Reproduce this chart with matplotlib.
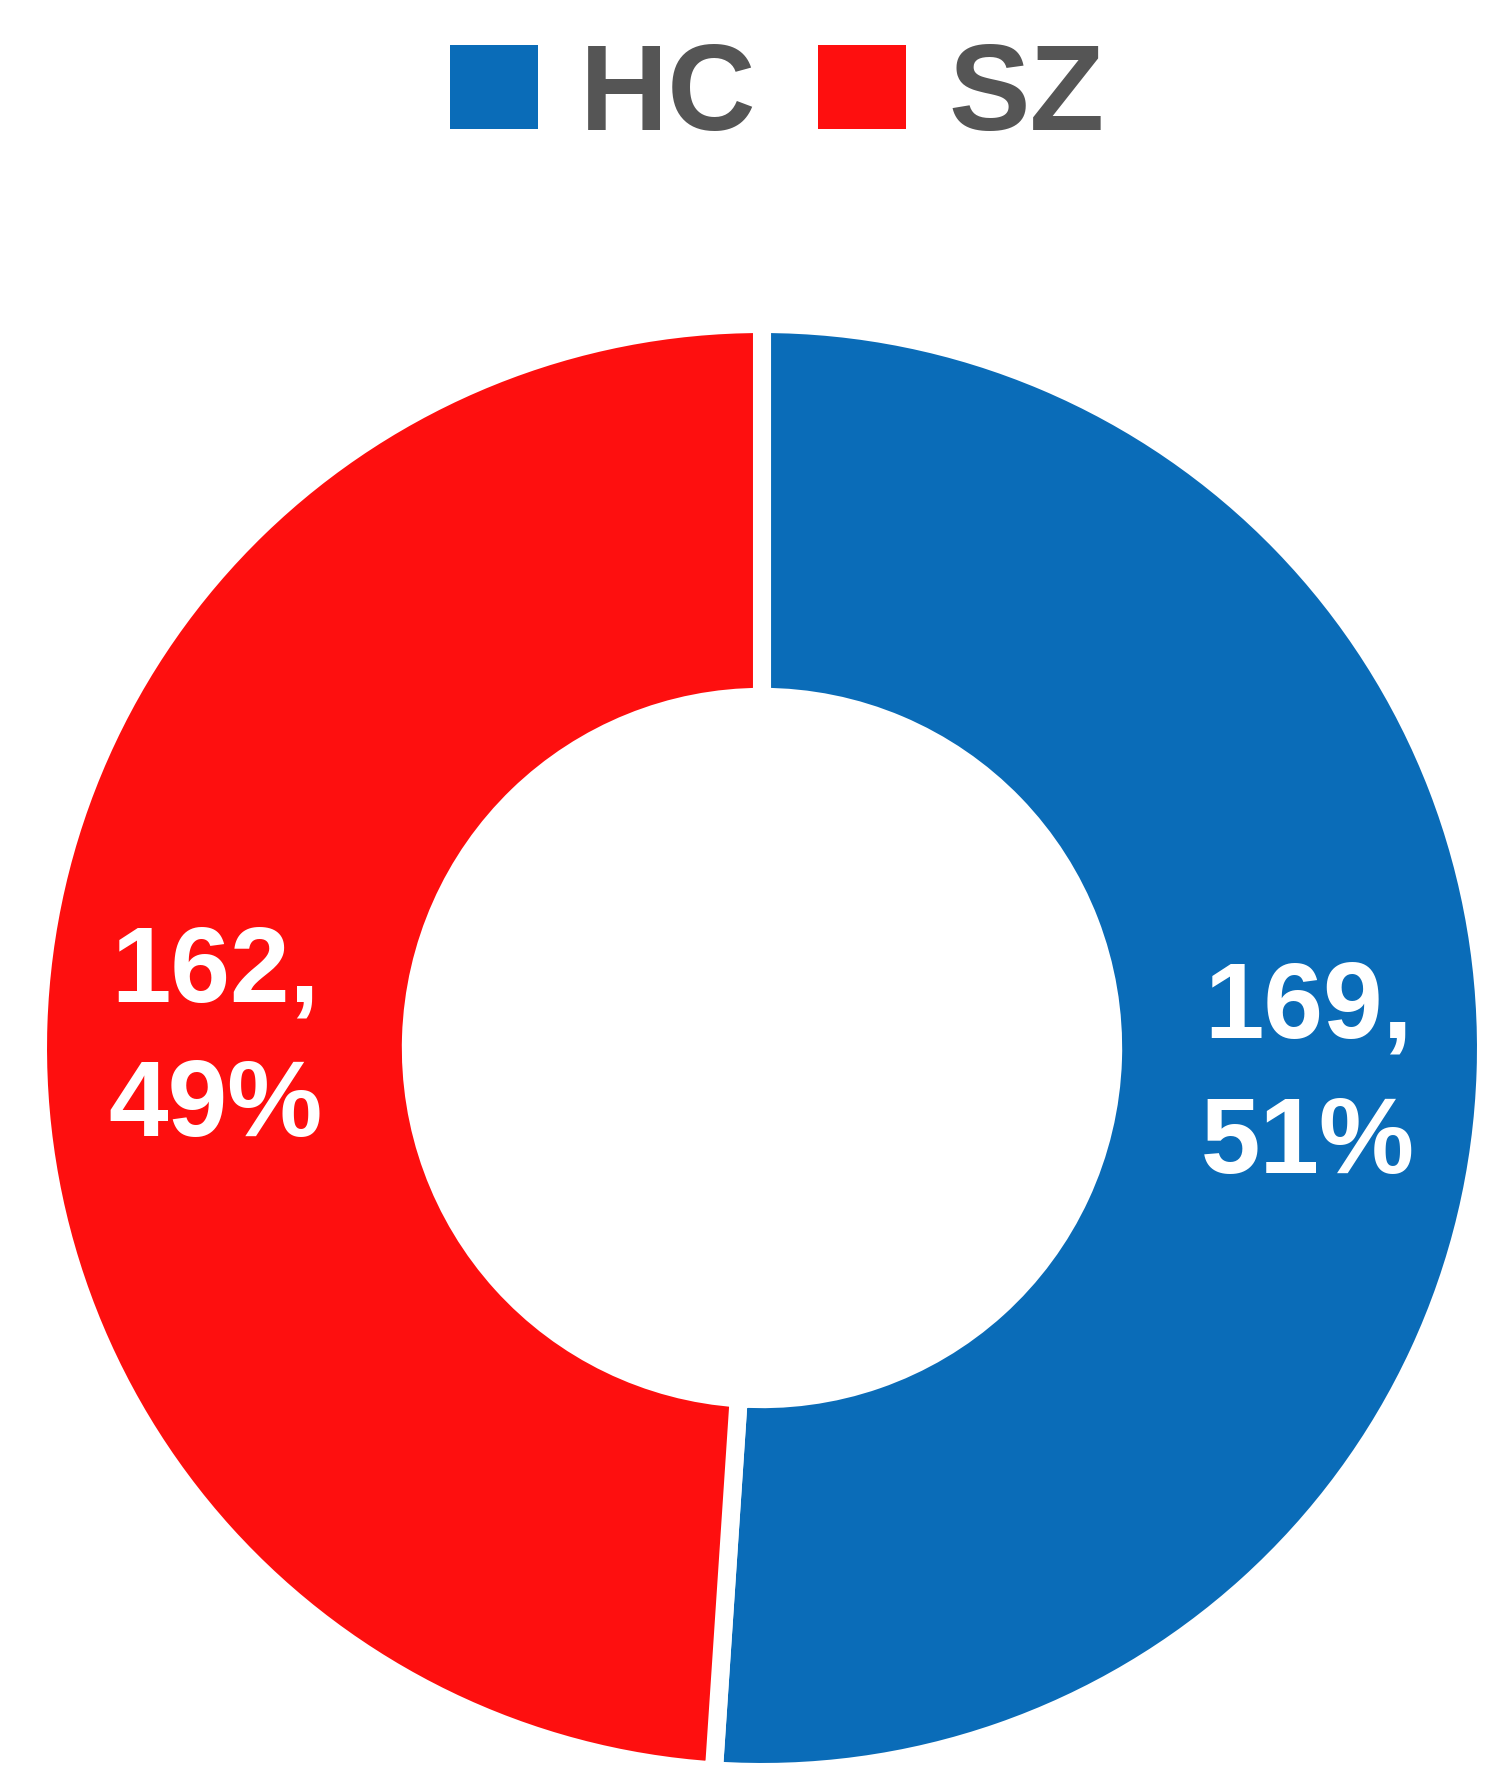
import matplotlib
matplotlib.use("Agg")
import matplotlib.pyplot as plt
from matplotlib.patches import Patch

# data
labels = ["HC", "SZ"]
counts = [169, 162]
colors = ["#0a6cb8", "#fe0f0f"]

plt.rcParams['font.family'] = ['Liberation Sans', 'DejaVu Sans']

fig = plt.figure(figsize=(15.12, 17.86), dpi=100)
fig.patch.set_facecolor("white")

# donut centre ~ (762, 1048) px, radius ~ 722 px
cx, cy, r = 762, 1048, 724
ax = fig.add_axes([(cx - r) / 1512, (1786 - cy - r) / 1786, 2 * r / 1512, 2 * r / 1786])

total = sum(counts)


def fmt(pct):
    val = int(round(pct * total / 100.0))
    return f"{val},\n{pct:.0f}%"


wedges, texts, autotexts = ax.pie(
    counts, colors=colors, startangle=90, counterclock=False,
    radius=1.0, autopct=fmt, pctdistance=0.755,
    wedgeprops=dict(width=0.515, edgecolor="white", linewidth=13),
    textprops=dict(color="white", fontsize=77, fontweight="bold"),
)
for t in autotexts:
    t.set_linespacing(1.45)
    t.set_horizontalalignment("center")
    x, y = t.get_position()
    t.set_position((x, y - 0.015))

ax.set_xlim(-1, 1)
ax.set_ylim(-1, 1)
ax.set_aspect("equal")
ax.axis("off")

handles = [Patch(facecolor=c, edgecolor="none") for c in colors]
leg = fig.legend(handles, labels, loc="center", bbox_to_anchor=(0.514, 0.945),
                 ncol=2, frameon=False, fontsize=88,
                 handlelength=0.72, handleheight=0.68, handletextpad=0.35,
                 columnspacing=0.5, borderpad=0)
for t in leg.get_texts():
    t.set_color("#555555")
    t.set_fontweight("bold")

fig.savefig("out.png", dpi=100, facecolor="white")
